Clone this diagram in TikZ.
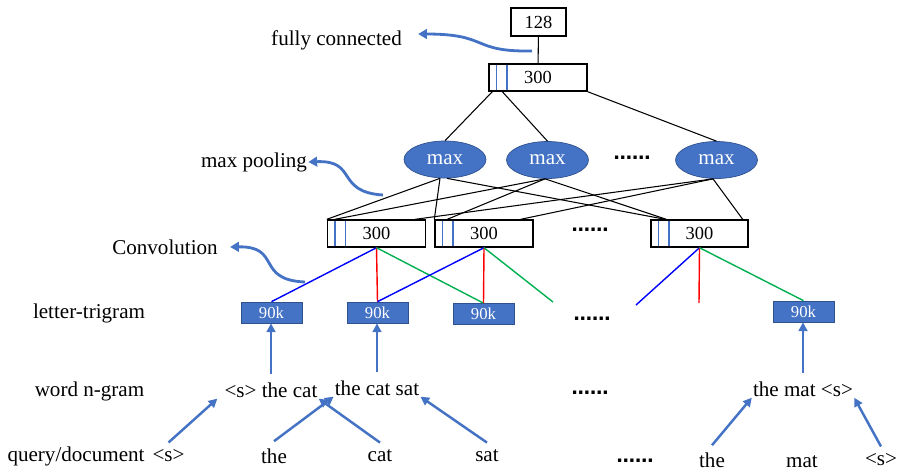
\documentclass[tikz,border=0pt]{standalone}
\usepackage{fontspec}
\setmainfont{Liberation Serif}
\newfontfamily\dotfont{DejaVu Sans}
\usetikzlibrary{shapes.geometric,arrows.meta}
\definecolor{office}{HTML}{4472C4}
\definecolor{officedark}{HTML}{2F528F}
\definecolor{convgreen}{HTML}{00B050}

\begin{document}
\begin{tikzpicture}[x=0.02cm,y=-0.02cm,
    font=\fontsize{12}{14}\selectfont,
    label/.style={inner sep=0pt},
    layer/.style={draw=black,line width=0.8pt,fill=white,minimum width=1.96cm,minimum height=0.54cm,inner sep=0pt,
        font=\fontsize{10.5}{12}\selectfont,
        path picture={\foreach \d in {0.15,0.36}
            \draw[office,line width=0.6pt] ([xshift=\d cm]path picture bounding box.north west) -- ([xshift=\d cm]path picture bounding box.south west);}},
    outbox/.style={draw=black,line width=0.8pt,minimum width=1.1cm,minimum height=0.56cm,inner sep=0pt,font=\fontsize{10.5}{12}\selectfont},
    maxnode/.style={ellipse,fill=office,draw=officedark,line width=0.4pt,text=white,minimum width=1.64cm,minimum height=0.74cm,inner sep=0pt},
    trigram/.style={fill=office,draw=officedark,line width=0.4pt,text=white,minimum width=1.22cm,minimum height=0.42cm,inner sep=0pt,
        font=\fontsize{9.5}{11}\selectfont},
    gram/.style={inner sep=0.5pt},
    token/.style={inner sep=4pt},
    dots/.style={inner sep=0pt,font=\fontsize{10.5}{12}\selectfont\dotfont\bfseries},
    link/.style={black,line width=0.6pt},
    uparrow/.style={office,line width=1.4pt,-{Triangle[length=5pt,width=5pt]}},
    note/.style={office,line width=1.6pt,-{Triangle[length=5pt,width=5.5pt]}}]
\useasboundingbox (0,0) rectangle (899,471);

% layers
\node[outbox] (fc) at (538.5,22) {128};
\node[layer] (fch) at (538,77.5) {300};
\node[maxnode] (m1) at (445,159.5) {max};
\node[maxnode] (m2) at (547.5,160) {max};
\node[maxnode] (m3) at (716.5,160) {max};
\node[layer] (c1) at (376.5,233.5) {300};
\node[layer] (c2) at (484,233.5) {300};
\node[layer,minimum width=1.94cm] (c3) at (699.5,233.5) {300};
\node[trigram] (t1) at (271.5,312.5) {90k};
\node[trigram] (t2) at (377.5,312.5) {90k};
\node[trigram] (t3) at (483.5,314) {90k};
\node[trigram] (t4) at (803.5,311.5) {90k};
\node[gram] (g1) at (271,390) {<s> the cat};
\node[gram] (g2) at (377,388) {the cat sat};
\node[gram] (g3) at (803,389) {the mat <s>};
\node[token] (w0) at (168.5,456) {<s>};
\node[token] (w1) at (274,456) {the};
\node[token] (w2) at (380,456) {cat};
\node[token] (w3) at (487,456) {sat};
\node[token] (w4) at (712,460) {the};
\node[token] (w5) at (802,462) {mat};
\node[token] (w6) at (881,460) {<s>};

\node[dots] (d1) at (632,158) {……};
\node[dots] (d2) at (590,230) {……};
\node[dots] (d3) at (592,319) {……};
\node[dots] (d4) at (590,393) {……};
\node[dots] (d5) at (635,461) {……};

% row names
\node[label] (fcl) at (336.5,40) {fully connected};
\node[label] (mpl) at (254,162) {max pooling};
\node[label] (cvl) at (165,247) {Convolution};
\node[label] (ltl) at (89,313) {letter-trigram};
\node[label] (wnl) at (89.5,391) {word n-gram};
\node[label] (qdl) at (76,456) {query/document};

% fully connected and pooling
\draw[link] (fc) -- (fch);
\draw[link] ([xshift=0.08cm]fch.south west) -- (m1.north);
\draw[link] ([xshift=0.28cm]fch.south west) -- (m2.north);
\draw[link] (fch.south east) -- (m3.north);

\draw[link] ([xshift=-0.1cm]m1.south) -- (c1.north west);
\draw[link] ([xshift=-0.1cm]m1.south) -- (c2.north west);
\draw[link] ([xshift=0.04cm]m1.south) -- ([xshift=0.3cm]c3.north west);
\draw[link] ([xshift=-0.05cm]m2.south) -- ([xshift=0.16cm]c1.north west);
\draw[link] ([xshift=-0.05cm]m2.south) -- ([xshift=0.26cm]c2.north west);
\draw[link] ([xshift=-0.05cm]m2.south) -- ([xshift=0.32cm]c3.north west);
\draw[link] ([xshift=-0.07cm]m3.south) -- ([xshift=-0.22cm]c1.north east);
\draw[link] ([xshift=-0.07cm]m3.south) -- ([xshift=-0.26cm]c2.north east);
\draw[link] ([xshift=-0.07cm]m3.south) -- ([xshift=-0.12cm]c3.north east);

% convolution windows
\coordinate (e1) at (553,302);
\coordinate (e2) at (636,305);
\coordinate (e3) at (699,303);
\draw[blue,line width=0.8pt] (c1.south) -- (t1.north);
\draw[red,line width=0.8pt] (c1.south) -- (t2.north);
\draw[convgreen,line width=0.8pt] (c1.south) -- (t3.north);
\draw[blue,line width=0.8pt] (c2.south) -- (t2.north);
\draw[red,line width=0.8pt] (c2.south) -- (t3.north);
\draw[convgreen,line width=0.8pt] (c2.south) -- (e1);
\draw[blue,line width=0.8pt] (c3.south) -- (e2);
\draw[red,line width=0.8pt] (c3.south) -- (e3);
\draw[convgreen,line width=0.8pt] (c3.south) -- (t4.north);

% hashing
\draw[uparrow] ([yshift=0.15cm]g1.north) -- (g1.north |- t1.south);
\draw[uparrow] ([yshift=0.15cm]g2.north) -- (g2.north |- t2.south);
\draw[uparrow] ([yshift=0.15cm]g3.north) -- (g3.north |- t4.south);

% sliding window
\draw[uparrow] (w0.north) -- ([xshift=-0.12cm]g1.south west);
\draw[uparrow] (w1.north) -- (g2.south west);
\draw[uparrow] (w2.north) -- (g1.south east);
\draw[uparrow] (w3.north) -- (g2.south east);
\draw[uparrow] (w4.north) -- (g3.south west);
\draw[uparrow] (w6.north) -- (g3.south east);

% notes
\coordinate (fcA) at (532,51);
\coordinate (mpA) at (383,195);
\coordinate (cvA) at (305,282);
\draw[note] (fcA) .. controls (470,52) and (490,34) .. ([xshift=0.32cm,yshift=0.12cm]fcl.east);
\draw[note] (mpA) .. controls (335,192) and (358,160) .. ([xshift=0.02cm]mpl.east);
\draw[note] (cvA) .. controls (255,280) and (282,246) .. ([xshift=0.24cm]cvl.east);

\end{tikzpicture}
\end{document}
